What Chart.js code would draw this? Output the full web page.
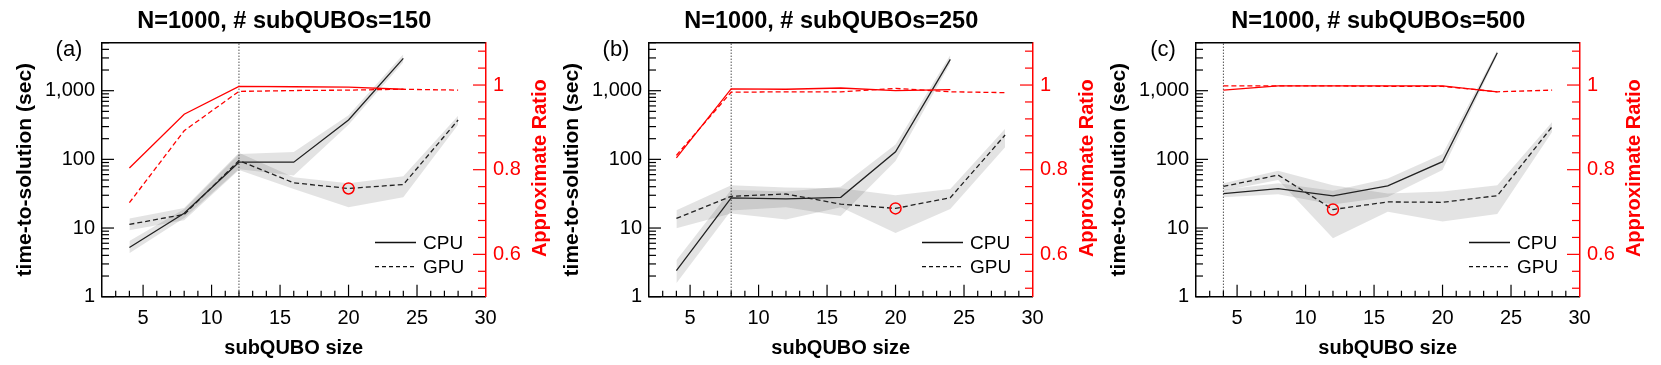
<!DOCTYPE html>
<html>
<head>
<meta charset="utf-8">
<script src="https://cdn.jsdelivr.net/npm/chart.js@4.4.1/dist/chart.umd.min.js"></script>
<style>
  body { margin:0; background:#fff; width:1661px; height:365px; position:relative; overflow:hidden; }
  canvas { position:absolute; top:0; }
</style>
</head>
<body>
<canvas id="pa" width="560" height="365" style="left:0px"></canvas>
<canvas id="pb" width="560" height="365" style="left:547px"></canvas>
<canvas id="pc" width="560" height="365" style="left:1094px"></canvas>
<script>
// --- data ---
const sizes = [4, 8, 12, 16, 20, 24, 28];          // subQUBO size
const titles = ['N=1000, # subQUBOs=150', 'N=1000, # subQUBOs=250', 'N=1000, # subQUBOs=500'];
const tags = ['(a)', '(b)', '(c)'];
const cutSize = [12, 8, 4];     // dotted vertical line
const bestSize = [20, 20, 12];  // red circle on GPU curve

const xMajor = [5, 10, 15, 20, 25, 30];
const logMajor = [1, 10, 100, 1000];
const ratioMajor = [0.6, 0.8, 1];

// (a) time-to-solution (sec); CPU runs stop at 24
const cpuA = [5.2, 16.4, 91, 91, 374, 2960];
const gpuA = [11.3, 15.8, 96, 45.5, 37.7, 43, 374];
const cpuLoA = [4.3, 14, 72, 58, 320, 2600];
const cpuHiA = [6.5, 19, 120, 128, 440, 3400];
const gpuLoA = [9.3, 13, 70, 37, 20, 28, 320];
const gpuHiA = [13.8, 19.5, 125, 55, 45, 57, 430];
const cpuRatioA = [0.804, 0.931, 0.997, 0.996, 0.995, 0.99];
const gpuRatioA = [0.722, 0.892, 0.985, 0.987, 0.988, 0.99, 0.988];

// (b)
const cpuB = [2.4, 27.5, 26.5, 28, 129, 2860];
const gpuB = [13.8, 29, 31.3, 22.3, 19.3, 27.7, 226];
const cpuLoB = [1.57, 18, 20, 15, 95, 2500];
const cpuHiB = [3.4, 36, 34, 40, 165, 3300];
const gpuLoB = [9.9, 16.3, 13.3, 20, 8.5, 19, 150];
const gpuHiB = [18.2, 42, 39, 38, 30, 37, 280];
const cpuRatioB = [0.828, 0.991, 0.99, 0.993, 0.987, 0.989];
const gpuRatioB = [0.834, 0.983, 0.984, 0.984, 0.992, 0.984, 0.982];

// (c)
const cpuC = [31.8, 37.6, 29.5, 41, 92.5, 3575];
const gpuC = [40.3, 59, 18.6, 24, 23.7, 29.6, 299];
const cpuLoC = [28, 31, 22, 28.4, 70, 3300];
const cpuHiC = [36, 45, 35, 52.6, 120, 3900];
const gpuLoC = [35, 50, 7.1, 17.2, 12.4, 16, 250];
const gpuHiC = [45, 68, 42, 31.8, 34, 42, 350];
const cpuRatioC = [0.988, 0.998, 0.998, 0.998, 0.998, 0.984];
const gpuRatioC = [0.998, 0.998, 0.998, 0.997, 0.997, 0.984, 0.988];

const RED = '#ff0000';
const FONT = "'Liberation Sans', Arial, sans-serif";
Chart.defaults.font.family = FONT;
Chart.defaults.color = '#000';

const pts = arr => arr.map((v, i) => ({x: sizes[i], y: v}));

// ticks inside the frame, titles, legend
const decor = {
  id: 'decor',
  afterDraw(chart, args, opt) {
    const {ctx, chartArea: a, scales: {x, y, y2}} = chart;
    const seg = (x0, y0, x1, y1) => { ctx.beginPath(); ctx.moveTo(x0, y0); ctx.lineTo(x1, y1); ctx.stroke(); };
    ctx.save();
    ctx.lineWidth = 1.2;
    ctx.strokeStyle = '#000';
    for (let v = 3; v < 30; v++) {
      let px = x.getPixelForValue(v);
      seg(px, a.bottom, px, a.bottom - (v % 5 ? 6 : 12));
    }
    for (const d of logMajor) for (let k = 1; k <= 9; k++) {
      let v = k * d;
      if (v > y.max) break;
      let py = y.getPixelForValue(v);
      seg(a.left, py, a.left + (k == 1 ? 12 : 7), py);
    }
    ctx.strokeStyle = RED;
    for (let i = 0; i <= 14; i++) {
      let v = 0.52 + 0.04 * i;
      let major = ratioMajor.some(m => Math.abs(m - v) < 1e-6);
      let py = y2.getPixelForValue(v);
      seg(a.right, py, a.right - (major ? 12.5 : 7.5), py);
    }
    ctx.strokeStyle = '#000';
    ctx.lineWidth = 1.5;
    seg(a.left, a.top, a.right, a.top);

    ctx.fillStyle = '#000';
    ctx.textAlign = 'center';
    ctx.textBaseline = 'middle';
    ctx.font = 'bold 23.5px ' + FONT;
    ctx.fillText(opt.title, (a.left + a.right) / 2 - 9.5, 22);
    ctx.font = '22px ' + FONT;
    ctx.fillText(opt.tag, a.left - 33, 50);

    ctx.save();
    ctx.translate(a.right + 54.5, (a.top + a.bottom) / 2 - 1.5);
    ctx.rotate(-Math.PI / 2);
    ctx.fillStyle = RED;
    ctx.font = 'bold 20px ' + FONT;
    ctx.fillText('Approximate Ratio', 0, 0);
    ctx.restore();

    // legend
    let lx = a.left + 273;
    ctx.strokeStyle = '#111';
    ctx.lineWidth = 1.3;
    seg(lx, a.top + 199.8, lx + 41, a.top + 199.8);
    ctx.setLineDash([4, 3]);
    seg(lx, a.top + 224, lx + 41, a.top + 224);
    ctx.setLineDash([]);
    ctx.textAlign = 'left';
    ctx.font = '19px ' + FONT;
    ctx.fillText('CPU', a.left + 321, a.top + 201.5);
    ctx.fillText('GPU', a.left + 321, a.top + 225);
    ctx.restore();
  }
};

function panel(id, k, cpu, gpu, cpuLo, cpuHi, gpuLo, gpuHi, cpuRatio, gpuRatio) {
  let bi = sizes.indexOf(bestSize[k]);
  let band = 'rgba(0,0,0,0.11)';
  let none = 'rgba(0,0,0,0)';
  return new Chart(document.getElementById(id), {
    type: 'line',
    data: {
      datasets: [
        {data: [{x: bestSize[k], y: gpu[bi]}], yAxisID: 'y', showLine: false, pointRadius: 5.5,
         pointBorderColor: RED, pointBackgroundColor: none, pointBorderWidth: 1.5},
        {data: pts(cpuRatio), yAxisID: 'y2', borderColor: RED, borderWidth: 1.3, pointRadius: 0},
        {data: pts(gpuRatio), yAxisID: 'y2', borderColor: RED, borderWidth: 1.3, borderDash: [5, 3], pointRadius: 0},
        {data: pts(cpu), yAxisID: 'y', borderColor: '#222', borderWidth: 1.3, pointRadius: 0},
        {data: pts(gpu), yAxisID: 'y', borderColor: '#222', borderWidth: 1.3, borderDash: [5, 3], pointRadius: 0},
        {data: [{x: cutSize[k], y: 1}, {x: cutSize[k], y: 5000}], yAxisID: 'y', borderColor: '#000',
         borderWidth: 1, borderDash: [1, 2], pointRadius: 0},
        {data: pts(cpuLo), yAxisID: 'y', borderColor: none, borderWidth: 0, pointRadius: 0},
        {data: pts(cpuHi), yAxisID: 'y', borderColor: none, borderWidth: 0, pointRadius: 0, fill: '-1', backgroundColor: band},
        {data: pts(gpuLo), yAxisID: 'y', borderColor: none, borderWidth: 0, pointRadius: 0},
        {data: pts(gpuHi), yAxisID: 'y', borderColor: none, borderWidth: 0, pointRadius: 0, fill: '-1', backgroundColor: band}
      ]
    },
    options: {
      responsive: false,
      animation: false,
      layout: {padding: {top: 42.7, left: 0, right: 0, bottom: 0}},
      plugins: {legend: {display: false}, tooltip: {enabled: false}, decor: {title: titles[k], tag: tags[k]}},
      scales: {
        x: {
          type: 'linear', min: 2, max: 30,
          afterBuildTicks: s => { s.ticks = xMajor.map(v => ({value: v})); },
          afterFit: s => { s.height = 68.3; },
          grid: {display: false, drawTicks: false},
          border: {color: '#000', width: 1.5},
          ticks: {font: {size: 20}, padding: 10, maxRotation: 0, autoSkip: false},
          title: {display: true, text: 'subQUBO size', font: {size: 20, weight: 'bold'}, padding: {top: 0, bottom: 5}}
        },
        y: {
          type: 'logarithmic', position: 'left', min: 1, max: 5000,
          afterBuildTicks: s => { s.ticks = logMajor.map(v => ({value: v})); },
          afterFit: s => { s.width = 102; },
          grid: {display: false, drawTicks: false},
          border: {color: '#000', width: 1.5},
          ticks: {font: {size: 20}, padding: 7, autoSkip: false, callback: v => v.toLocaleString('en-US')},
          title: {display: true, text: 'time-to-solution (sec)', font: {size: 21, weight: 'bold'}, padding: {top: 12.4, bottom: 0}}
        },
        y2: {
          type: 'linear', position: 'right', min: 0.5, max: 1.1,
          afterBuildTicks: s => { s.ticks = ratioMajor.map(v => ({value: v})); },
          afterFit: s => { s.width = 74.5; },
          grid: {display: false, drawTicks: false},
          border: {color: RED, width: 1.5},
          ticks: {font: {size: 20}, color: RED, padding: 7.5, autoSkip: false, callback: v => v == 1 ? '1' : v.toFixed(1)}
        }
      }
    },
    plugins: [decor]
  });
}

panel('pa', 0, cpuA, gpuA, cpuLoA, cpuHiA, gpuLoA, gpuHiA, cpuRatioA, gpuRatioA);
panel('pb', 1, cpuB, gpuB, cpuLoB, cpuHiB, gpuLoB, gpuHiB, cpuRatioB, gpuRatioB);
panel('pc', 2, cpuC, gpuC, cpuLoC, cpuHiC, gpuLoC, gpuHiC, cpuRatioC, gpuRatioC);
</script>
</body>
</html>
